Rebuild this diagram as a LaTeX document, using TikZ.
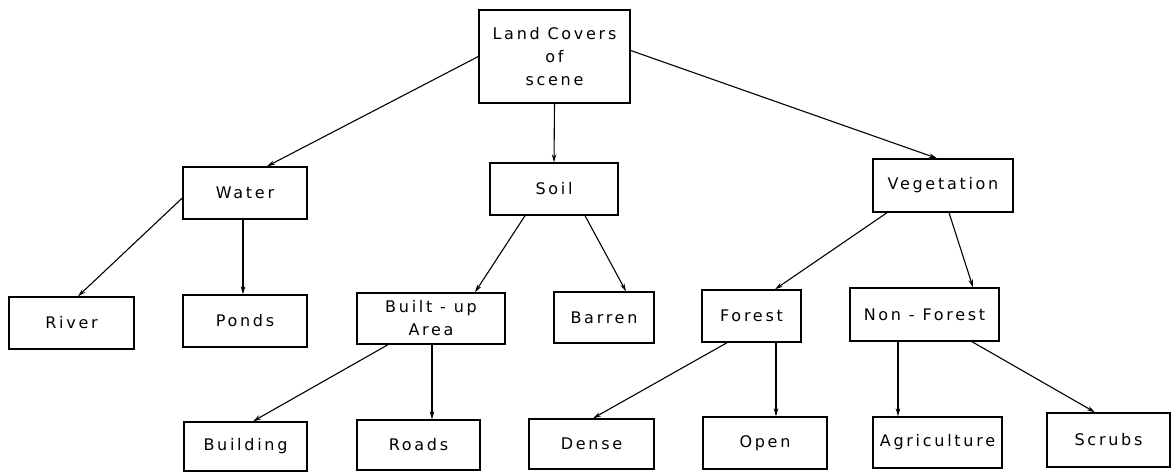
\documentclass[tikz,border=0pt]{standalone}
\usepackage{fontspec}
\newfontfamily\lettering[LetterSpace=17]{DejaVu Sans}
\usetikzlibrary{arrows.meta}

\begin{document}
\begin{tikzpicture}[
  x=1pt, y=-1pt,
  cover/.style={rectangle, draw, line width=1.4pt, minimum height=52pt, inner sep=0pt, align=center, font=\lettering\fontsize{16}{23}\selectfont},
  >={Stealth[length=8pt, width=4.5pt]},
  link/.style={->, line width=1.1pt}
]
\useasboundingbox (0,0) rectangle (1171,472);

% top and first level
\node[cover, minimum width=151pt, minimum height=93pt] (Scene) at (554.5,56.5) {Land Covers\\of\\scene};
\node[cover, minimum width=124pt] (Water) at (245,193) {Water};
\node[cover, minimum width=128pt] (Soil) at (554,189) {Soil};
\node[cover, minimum width=140pt, minimum height=53pt] (Vegetation) at (943,185.5) {Vegetation};

% second level
\node[cover, minimum width=125pt] (River) at (71.5,323) {River};
\node[cover, minimum width=124pt] (Ponds) at (245,321) {Ponds};
\node[cover, minimum width=148pt, minimum height=51pt] (Builtup) at (431,318.5) {Built - up\\Area};
\node[cover, minimum width=100pt, minimum height=51pt] (Barren) at (604,317.5) {Barren};
\node[cover, minimum width=99pt] (Forest) at (751.5,316) {Forest};
\node[cover, minimum width=149pt, minimum height=53pt] (NonForest) at (924.5,314.5) {Non - Forest};

% third level
\node[cover, minimum width=123pt, minimum height=49pt] (Building) at (245.5,446.5) {Building};
\node[cover, minimum width=123pt, minimum height=50pt] (Roads) at (418.5,445) {Roads};
\node[cover, minimum width=125pt, minimum height=50pt] (Dense) at (591.5,444) {Dense};
\node[cover, minimum width=124pt] (Open) at (765,443) {Open};
\node[cover, minimum width=129pt, minimum height=51pt] (Agriculture) at (937.5,442.5) {Agriculture};
\node[cover, minimum width=123pt, minimum height=54pt] (Scrubs) at (1108.5,440) {Scrubs};

\draw[link] (Scene.west) -- ([xshift=22pt]Water.north);
\draw[link] (Scene.south) -- (Soil.north);
\draw[link] ([yshift=6pt]Scene.east) -- ([xshift=-6pt]Vegetation.north);

\draw[link] ([yshift=-5pt]Water.west) -- ([xshift=6.5pt]River.north);
\draw[link] ([xshift=-2pt]Water.south) -- ([xshift=-2pt]Ponds.north);
\draw[link] ([xshift=-29pt]Soil.south) -- ([xshift=44pt]Builtup.north);
\draw[link] ([xshift=31pt]Soil.south) -- ([xshift=22pt]Barren.north);
\draw[link] ([xshift=-56pt]Vegetation.south) -- ([xshift=23.5pt]Forest.north);
\draw[link] ([xshift=6pt]Vegetation.south) -- ([xshift=48.5pt]NonForest.north);

\draw[link] ([xshift=-43pt]Builtup.south) -- ([xshift=7.5pt]Building.north);
\draw[link] ([xshift=1pt]Builtup.south) -- ([xshift=13.5pt]Roads.north);
\draw[link] ([xshift=-24.5pt]Forest.south) -- ([xshift=1.5pt]Dense.north);
\draw[link] ([xshift=24.5pt]Forest.south) -- ([xshift=11pt]Open.north);
\draw[link] ([xshift=-26.5pt]NonForest.south) -- ([xshift=-39.5pt]Agriculture.north);
\draw[link] ([xshift=47.5pt]NonForest.south) -- ([xshift=-13.5pt]Scrubs.north);
\end{tikzpicture}
\end{document}
